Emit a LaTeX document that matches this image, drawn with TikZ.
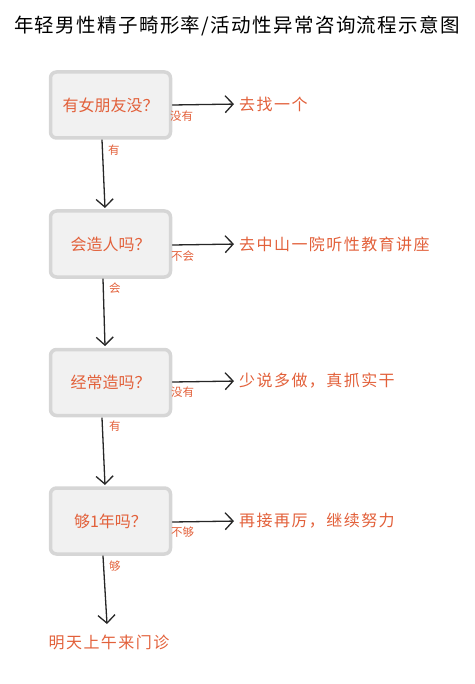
\documentclass[tikz,border=0pt]{standalone}
\usepackage{fontspec}
\setmainfont{Noto Sans CJK SC}
\newfontfamily\spacedcjk[LetterSpace=9]{Noto Sans CJK SC}
\newfontfamily\titlecjk[LetterSpace=7]{Noto Sans CJK SC}
\usetikzlibrary{arrows.meta}
\definecolor{txtor}{HTML}{E2603A}
\definecolor{boxfill}{HTML}{F1F1F1}
\definecolor{boxline}{HTML}{D6D6D6}
\tikzset{
  qbox/.style={draw=boxline, line width=3.5pt, fill=boxfill, rounded corners=6pt,
    minimum width=120pt, minimum height=66pt, inner sep=0pt,
    text=txtor, font=\fontsize{16}{16}\selectfont},
  tgt/.style={anchor=west, text=txtor, inner sep=0pt, font=\spacedcjk\fontsize{16}{16}\selectfont},
  lab/.style={text=txtor, inner sep=0pt, font=\fontsize{11.5}{12}\selectfont},
  arr/.style={draw=black!85, line width=1.3pt, line cap=round,
    -{Straight Barb[length=8pt,width=17pt,line width=1.3pt]}},
}
\begin{document}
\begin{tikzpicture}[x=1pt,y=-1pt]
\useasboundingbox (0,0) rectangle (474,684);
\node (title) at (237,26) {\titlecjk\fontsize{19.5}{20}\selectfont 年轻男性精子畸形率/活动性异常咨询流程示意图};

\node[qbox] (q1) at (110.5,105) {有女朋友没？};
\node[qbox] (q2) at (110.5,244) {会造人吗？};
\node[qbox] (q3) at (110.5,382.5) {经常造吗？};
\node[qbox] (q4) at (110.5,521) {够1年吗？};

\node[tgt] (a1) at (239,104) {去找一个};
\node[tgt] (a2) at (239,244) {去中山一院听性教育讲座};
\node[tgt] (a3) at (239,381) {少说多做，真抓实干};
\node[tgt] (a4) at (239,521) {再接再厉，继续努力};
\node[text=txtor, inner sep=0pt, font=\spacedcjk\fontsize{16}{16}\selectfont] (end) at (109,642) {明天上午来门诊};

\coordinate (e1) at (172.5,105);
\coordinate (e2) at (172.5,245);
\coordinate (e3) at (172.5,382);
\coordinate (e4) at (172.5,522);

\draw[arr, shorten >=5pt] (e1) -- (a1.west);
\draw[arr, shorten >=5pt] (e2) -- (a2.west);
\draw[arr, shorten >=5pt] (e3) -- (a3.west);
\draw[arr, shorten >=5pt] (e4) -- (a4.west);

\node[lab, anchor=north west] (l1) at (170,111) {没有};
\node[lab, anchor=north west] (l2) at (171,251) {不会};
\node[lab, anchor=north west] (l3) at (171,387) {没有};
\node[lab, anchor=north west] (l4) at (171,527) {不够};

\coordinate (b1) at (102,140);
\coordinate (t2) at (105,208);
\coordinate (b2) at (103,279);
\coordinate (t3) at (105,346);
\coordinate (b3) at (102,418);
\coordinate (t4) at (105,485);
\coordinate (b4) at (103,556);
\coordinate (t5) at (107,624);

\draw[arr] (b1) -- (t2);
\draw[arr] (b2) -- (t3);
\draw[arr] (b3) -- (t4);
\draw[arr] (b4) -- (t5);

\node[lab, anchor=west] (d1) at (108,150) {有};
\node[lab, anchor=west] (d2) at (109,288) {会};
\node[lab, anchor=west] (d3) at (109,426) {有};
\node[lab, anchor=west] (d4) at (109,566) {够};
\end{tikzpicture}
\end{document}
